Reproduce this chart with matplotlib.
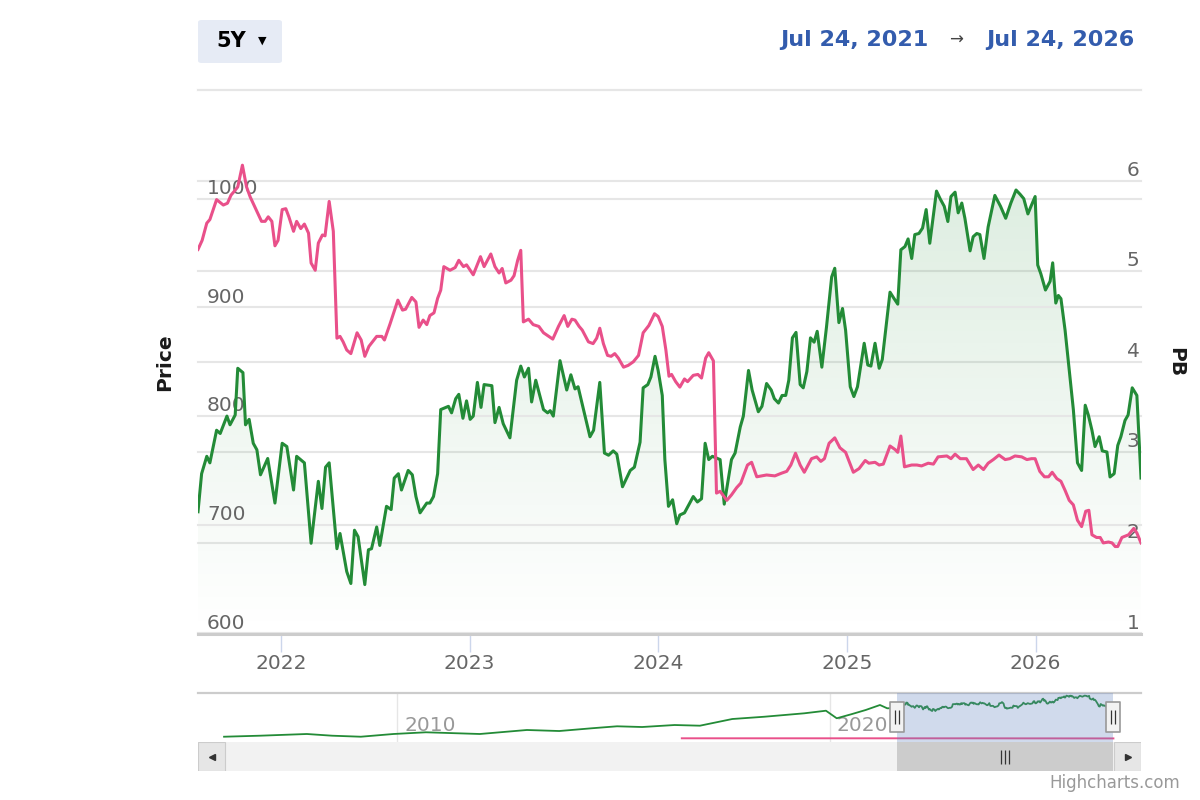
import numpy as np
import pandas as pd
import matplotlib
matplotlib.use("Agg")
import matplotlib.pyplot as plt
import matplotlib.dates as mdates
from matplotlib.patches import FancyBboxPatch, PathPatch, Rectangle
from matplotlib.path import Path
from matplotlib.colors import to_rgb
from matplotlib.transforms import blended_transform_factory

# ---- data ----
start = pd.Timestamp("2021-07-24")
end = pd.Timestamp("2026-07-24")

# days after start / price (left axis)
price_days = [0, 7, 17, 23, 36, 43, 56, 62, 72, 77,
              87, 92, 99, 107, 114, 121, 135, 149, 163, 172,
              185, 191, 206, 219, 233, 240, 247, 254, 269, 275,
              288, 296, 303, 310, 323, 330, 336, 346, 352, 365,
              374, 380, 388, 394, 407, 415, 422, 430, 443, 449,
              456, 464, 470, 485, 491, 499, 505, 513, 520, 527,
              533, 541, 548, 554, 569, 575, 583, 591, 604, 617,
              625, 632, 640, 646, 654, 669, 677, 682, 688, 701,
              714, 722, 730, 736, 759, 766, 778, 787, 795, 804,
              811, 822, 837, 845, 856, 862, 871, 877, 885, 891,
              899, 904, 911, 919, 927, 933, 942, 959, 967, 975,
              982, 989, 996, 1011, 1019, 1033, 1040, 1050, 1056, 1066,
              1073, 1085, 1092, 1101, 1110, 1116, 1124, 1131, 1138, 1144,
              1151, 1158, 1166, 1172, 1179, 1186, 1193, 1199, 1208, 1217,
              1227, 1233, 1241, 1248, 1254, 1263, 1270, 1277, 1290, 1297,
              1303, 1311, 1319, 1325, 1340, 1348, 1355, 1361, 1369, 1375,
              1382, 1388, 1396, 1403, 1410, 1417, 1430, 1437, 1445, 1452,
              1458, 1466, 1472, 1479, 1485, 1495, 1501, 1508, 1514, 1522,
              1530, 1543, 1554, 1564, 1574, 1584, 1592, 1599, 1607, 1613,
              1621, 1626, 1632, 1641, 1650, 1655, 1661, 1666, 1671, 1679,
              1687, 1695, 1703, 1711, 1718, 1724, 1731, 1737, 1745, 1751,
              1760, 1766, 1774, 1781, 1787, 1795, 1801, 1809, 1818, 1826]
price = [712, 747, 763, 757, 787, 784, 800, 792, 801, 844,
         840, 792, 797, 775, 769, 746, 761, 720, 775, 772,
         732, 763, 757, 683, 740, 715, 753, 757, 678, 692,
         657, 646, 695, 689, 645, 677, 678, 698, 681, 717,
         714, 743, 747, 732, 750, 746, 726, 711, 720, 720,
         726, 747, 806, 809, 803, 816, 820, 798, 814, 797,
         800, 831, 808, 829, 828, 794, 808, 793, 780, 833,
         846, 836, 844, 813, 833, 806, 803, 805, 800, 851,
         824, 838, 825, 827, 781, 787, 831, 766, 764, 768,
         765, 735, 750, 753, 776, 826, 829, 836, 855, 842,
         819, 760, 717, 723, 701, 709, 711, 726, 721, 724,
         775, 760, 763, 760, 719, 760, 766, 790, 800, 842,
         824, 804, 809, 830, 824, 816, 812, 819, 819, 833,
         872, 877, 829, 826, 841, 872, 868, 878, 845, 882,
         928, 936, 886, 899, 879, 827, 818, 827, 867, 847,
         846, 867, 844, 852, 914, 908, 903, 953, 956, 963,
         945, 967, 968, 973, 990, 959, 1007, 1000, 993, 979,
         1002, 1006, 987, 996, 982, 952, 965, 968, 967, 945,
         974, 1003, 993, 982, 996, 1008, 1004, 1000, 986, 993,
         1002, 939, 931, 916, 924, 941, 904, 911, 908, 879,
         842, 806, 757, 750, 810, 801, 787, 772, 781, 768,
         767, 744, 747, 773, 781, 796, 801, 826, 819, 743]

# days after start / PB (right axis)
pb_days = [0, 8, 17, 23, 36, 49, 57, 64, 70, 77,
           86, 94, 101, 114, 123, 130, 136, 143, 149, 155,
           163, 170, 176, 185, 191, 199, 206, 214, 219, 227,
           233, 241, 246, 254, 262, 269, 275, 281, 288, 296,
           308, 316, 323, 331, 346, 356, 361, 372, 387, 396,
           402, 414, 422, 428, 436, 443, 449, 457, 464, 470,
           476, 488, 498, 505, 514, 520, 533, 547, 554, 567,
           575, 583, 589, 596, 606, 612, 619, 625, 630, 640,
           649, 660, 669, 687, 698, 709, 716, 724, 730, 738,
           744, 756, 765, 772, 778, 785, 793, 800, 807, 814,
           824, 833, 843, 853, 862, 873, 884, 891, 899, 906,
           912, 917, 925, 933, 942, 948, 959, 968, 975, 983,
           989, 998, 1004, 1011, 1024, 1033, 1043, 1051, 1064, 1072,
           1082, 1101, 1117, 1130, 1140, 1148, 1157, 1166, 1174, 1188,
           1198, 1206, 1213, 1222, 1233, 1243, 1254, 1269, 1280, 1292,
           1299, 1311, 1319, 1327, 1340, 1350, 1355, 1361, 1368, 1382,
           1392, 1401, 1414, 1424, 1433, 1450, 1458, 1466, 1476, 1488,
           1501, 1511, 1521, 1530, 1540, 1551, 1563, 1572, 1582, 1595,
           1605, 1614, 1621, 1630, 1639, 1647, 1654, 1663, 1671, 1679,
           1687, 1695, 1703, 1711, 1719, 1725, 1731, 1740, 1747, 1753,
           1763, 1770, 1776, 1781, 1789, 1802, 1812, 1818, 1826]
pb = [5.24, 5.34, 5.53, 5.57, 5.79, 5.73, 5.75, 5.84, 5.88, 5.93,
      6.17, 5.93, 5.82, 5.66, 5.55, 5.55, 5.60, 5.55, 5.28, 5.34,
      5.68, 5.69, 5.60, 5.44, 5.55, 5.47, 5.52, 5.42, 5.09, 5.01,
      5.31, 5.40, 5.39, 5.77, 5.44, 4.26, 4.28, 4.22, 4.13, 4.09,
      4.32, 4.24, 4.06, 4.17, 4.28, 4.28, 4.24, 4.42, 4.68, 4.57,
      4.58, 4.71, 4.66, 4.38, 4.46, 4.41, 4.51, 4.54, 4.70, 4.79,
      5.05, 5.01, 5.04, 5.12, 5.05, 5.07, 4.96, 5.16, 5.05, 5.19,
      5.05, 4.98, 5.03, 4.87, 4.90, 4.95, 5.12, 5.23, 4.44, 4.47,
      4.41, 4.39, 4.32, 4.25, 4.39, 4.51, 4.39, 4.47, 4.46, 4.39,
      4.35, 4.22, 4.20, 4.26, 4.37, 4.20, 4.07, 4.06, 4.09, 4.04,
      3.94, 3.96, 4.00, 4.07, 4.32, 4.40, 4.53, 4.50, 4.39, 4.13,
      3.84, 3.86, 3.78, 3.72, 3.81, 3.78, 3.85, 3.86, 3.82, 4.04,
      4.10, 4.01, 2.55, 2.57, 2.47, 2.53, 2.61, 2.66, 2.86, 2.89,
      2.73, 2.75, 2.74, 2.77, 2.79, 2.86, 2.99, 2.86, 2.78, 2.93,
      2.95, 2.90, 2.93, 3.10, 3.16, 3.05, 3.00, 2.78, 2.82, 2.91,
      2.88, 2.89, 2.86, 2.87, 3.07, 3.03, 3.00, 3.18, 2.84, 2.86,
      2.86, 2.85, 2.88, 2.87, 2.95, 2.96, 2.93, 2.98, 2.93, 2.93,
      2.81, 2.86, 2.81, 2.88, 2.92, 2.97, 2.92, 2.93, 2.96, 2.95,
      2.92, 2.93, 2.93, 2.79, 2.73, 2.73, 2.78, 2.71, 2.68, 2.58,
      2.47, 2.42, 2.25, 2.18, 2.35, 2.36, 2.09, 2.06, 2.06, 2.00,
      2.01, 2.00, 1.96, 1.96, 2.06, 2.09, 2.16, 2.11, 2.00]

# older history only visible in the navigator
hist_months = ["2006-01", "2006-11", "2007-12", "2008-07", "2009-03", "2009-12",
               "2010-09", "2011-12", "2013-01", "2013-10", "2014-07", "2015-02",
               "2015-09", "2016-06", "2017-01", "2017-10", "2018-07", "2019-06",
               "2019-12", "2020-03", "2020-07", "2020-11", "2021-03", "2021-05"]
hist_price = [42, 66, 106, 66, 42, 106, 146, 106, 200, 176, 240, 287,
              270, 317, 301, 458, 512, 592, 653, 475, 569, 670, 787, 710]
pb_hist_months = ["2016-08", "2018-06", "2020-03", "2021-06"]
pb_hist = [5.0, 5.5, 4.8, 5.2]

year_ticks = [2022, 2023, 2024, 2025, 2026]
price_ticks = [600, 700, 800, 900, 1000, 1100]
pb_ticks = [1, 2, 3, 4, 5, 6, 7]
nav_years = [2010, 2020]
nav_start, nav_end = "2005-05-26", "2027-03-14"

GREEN = "#238b37"
PINK = "#e9508a"
GRID = "#e6e6e6"
LABEL = "#666666"

W, H = 1200, 800


def box(x0, y0, x1, y1):
    # pixel box (top-left origin) -> figure rect
    return [x0 / W, 1 - y1 / H, (x1 - x0) / W, (y1 - y0) / H]


def to_num(days):
    return mdates.date2num(start + pd.to_timedelta(days, unit="D"))


fig = plt.figure(figsize=(12, 8), dpi=100)
fig.patch.set_facecolor("white")

# ---- main chart ----
ax = fig.add_axes(box(198, 90, 1141, 633.5))
ax2 = ax.twinx()
ax.set_ylim(600, 1100)
ax2.set_ylim(1, 7)
x0, x1 = mdates.date2num(start), mdates.date2num(end)

xp = to_num(price_days)
xb = to_num(pb_days)

# grid lines for both axes, drawn under the series
ax.set_yticks(price_ticks)
ax.grid(axis="y", color=GRID, lw=1.5, zorder=0)
for gl in ax.get_ygridlines():
    gl.set_clip_on(False)
ax2.set_yticks(pb_ticks)
tr_pb = blended_transform_factory(ax.transAxes, ax2.transData)
for v in pb_ticks:
    ax.plot([0, 1], [v, v], transform=tr_pb, color=GRID, lw=1.5, zorder=0.5, clip_on=False)

# gradient area under price
poly = ax.fill_between(xp, price, 600, facecolor="none", edgecolor="none")
clip = PathPatch(poly.get_paths()[0], transform=ax.transData, facecolor="none", edgecolor="none")
ax.add_patch(clip)
grad = np.zeros((256, 1, 4))
grad[..., :3] = to_rgb(GREEN)
grad[..., 3] = np.linspace(0.15, 0.0, 256)[:, None]
im = ax.imshow(grad, extent=[x0, x1, 600, max(price)], aspect="auto", origin="upper", zorder=1)
im.set_clip_path(clip)

ax.plot(xp, price, color=GREEN, lw=2.2, zorder=3, solid_joinstyle="round")
ax2.plot(xb, pb, color=PINK, lw=2.2, zorder=3, solid_joinstyle="round")

ax.set_xlim(x0, x1)
ax.set_ylim(600, 1100)
ax2.set_ylim(1, 7)

for a in (ax, ax2):
    for s in a.spines.values():
        s.set_visible(False)
ax.spines["bottom"].set_visible(True)
ax.spines["bottom"].set_color("#cccccc")
ax.spines["bottom"].set_linewidth(2.2)

ax.tick_params(axis="y", length=0, labelleft=False)
ax2.tick_params(axis="y", length=0, labelright=False)
ax2.grid(False)

ax.set_xticks([mdates.date2num(pd.Timestamp(f"{y}-01-01")) for y in year_ticks])
ax.set_xticklabels([str(y) for y in year_ticks])
ax.tick_params(axis="x", length=13, width=1, color="#ccd6eb", labelsize=14.5,
               labelcolor=LABEL, pad=1.5)

for v in price_ticks[:-1]:
    ax.annotate(str(v), xy=(0, v), xycoords=("axes fraction", "data"), xytext=(6.5, 3.5),
                textcoords="offset points", ha="left", va="baseline",
                fontsize=14.5, color=LABEL, zorder=2)
for v in pb_ticks[:-1]:
    ax2.annotate(str(v), xy=(1, v), xycoords=("axes fraction", "data"), xytext=(-1, 3.5),
                 textcoords="offset points", ha="right", va="baseline",
                 fontsize=14.5, color=LABEL, zorder=2)

fig.text(165 / W, 1 - 362 / H, "Price", rotation=90, ha="center", va="center",
         fontsize=14.5, fontweight="bold", color="#1a1a1a")
fig.text(1176 / W, 1 - 362 / H, "PB", rotation=-90, ha="center", va="center",
         fontsize=14.5, fontweight="bold", color="#1a1a1a")

# ---- navigator ----
nav = fig.add_axes(box(198, 693, 1141, 742))
nx0, nx1 = mdates.date2num(pd.Timestamp(nav_start)), mdates.date2num(pd.Timestamp(nav_end))
nav_x = np.concatenate([mdates.date2num(pd.to_datetime(hist_months)), xp])
nav_y = np.concatenate([hist_price, price])
nav_pbx = np.concatenate([mdates.date2num(pd.to_datetime(pb_hist_months)), xb])
nav_pby = np.concatenate([pb_hist, pb])
nav.set_xlim(nx0, nx1)
nav.set_ylim(-82, 1069)
for yr in nav_years:
    xd = mdates.date2num(pd.Timestamp(f"{yr}-01-01"))
    nav.axvline(xd, color=GRID, lw=1, zorder=0)
    nav.annotate(str(yr), xy=(xd, 0.33), xycoords=("data", "axes fraction"), xytext=(5, 0),
                 textcoords="offset points", ha="left", va="center", fontsize=14.5,
                 color="#999999", zorder=0.5)
nav.plot(nav_x, nav_y, color=GREEN, lw=1.3, zorder=2)
nav.plot(nav_pbx, nav_pby, color=PINK, lw=1.4, zorder=2)
nav.axvspan(x0, x1, color=(102 / 255, 133 / 255, 194 / 255), alpha=0.3, lw=0, zorder=3)
for s in nav.spines.values():
    s.set_visible(False)
nav.spines["top"].set_visible(True)
nav.spines["top"].set_color("#cccccc")
nav.spines["top"].set_linewidth(1.6)
nav.set_xticks([])
nav.set_yticks([])

handle = Path([(-0.25, -0.5), (0.25, -0.5), (0.25, 0.5), (-0.25, 0.5), (-0.25, -0.5)],
              [Path.MOVETO, Path.LINETO, Path.LINETO, Path.LINETO, Path.CLOSEPOLY])
grip2 = Path([(-0.15, -0.5), (-0.15, 0.5), (0.15, -0.5), (0.15, 0.5)],
             [Path.MOVETO, Path.LINETO, Path.MOVETO, Path.LINETO])
tr_nav = blended_transform_factory(nav.transData, nav.transAxes)
nav.plot([x0, x1], [0.51, 0.51], transform=tr_nav, ls="none", marker=handle, ms=21,
         mfc="#f2f2f2", mec="#999999", mew=1.2, zorder=5, clip_on=False)
nav.plot([x0, x1], [0.51, 0.51], transform=tr_nav, ls="none", marker=grip2, ms=10,
         mfc="none", mec="#333333", mew=0.9, zorder=6, clip_on=False)

# ---- scrollbar ----
sb = fig.add_axes(box(198, 742, 1141, 771))
sb.set_xlim(nx0, nx1)
sb.set_ylim(0, 1)
sb.set_facecolor("#f2f2f2")
sb.axvspan(x0, x1, color="#cccccc", lw=0)
bw = 27 / 943
sb.add_patch(Rectangle((0, 0), bw, 1, transform=sb.transAxes, fc="#e6e6e6", ec="#cccccc", lw=0.8))
sb.add_patch(Rectangle((1 - bw, 0), bw, 1, transform=sb.transAxes, fc="#e6e6e6", ec="#cccccc", lw=0.8))
sb.plot([bw / 2], [0.5], transform=sb.transAxes, marker="<", ms=5, color="#333333")
sb.plot([1 - bw / 2], [0.5], transform=sb.transAxes, marker=">", ms=5, color="#333333")
grip3 = Path([(-0.3, -0.5), (-0.3, 0.5), (0, -0.5), (0, 0.5), (0.3, -0.5), (0.3, 0.5)],
             [Path.MOVETO, Path.LINETO, Path.MOVETO, Path.LINETO, Path.MOVETO, Path.LINETO])
sb.plot([(x0 + x1) / 2], [0.5], ls="none", marker=grip3, ms=10, mfc="none",
        mec="#333333", mew=0.9)
for s in sb.spines.values():
    s.set_visible(False)
sb.set_xticks([])
sb.set_yticks([])

# ---- range selector header ----
fig.add_artist(FancyBboxPatch((198 / W, 1 - 63 / H), 84 / W, 43 / H,
                              boxstyle="round,pad=0,rounding_size=0.003",
                              transform=fig.transFigure, fc="#e6ebf5", ec="none"))
fig.text(216 / W, 1 - 41 / H, "5Y", ha="left", va="center", fontsize=15,
         fontweight="bold", color="#000000")
fig.text(262 / W, 1 - 41 / H, "▼", ha="center", va="center", fontsize=8, color="#000000")
fig.text(928 / W, 1 - 40 / H, "Jul 24, 2021", ha="right", va="center", fontsize=16,
         fontweight="bold", color="#335cad")
fig.text(956 / W, 1 - 40 / H, "→", ha="center", va="center", fontsize=12, color="#444444")
fig.text(1134 / W, 1 - 40 / H, "Jul 24, 2026", ha="right", va="center", fontsize=16,
         fontweight="bold", color="#335cad")

fig.text(1180 / W, 1 - 783 / H, "Highcharts.com", ha="right", va="center",
         fontsize=12, color="#999999")

fig.savefig("out.png", dpi=100)
